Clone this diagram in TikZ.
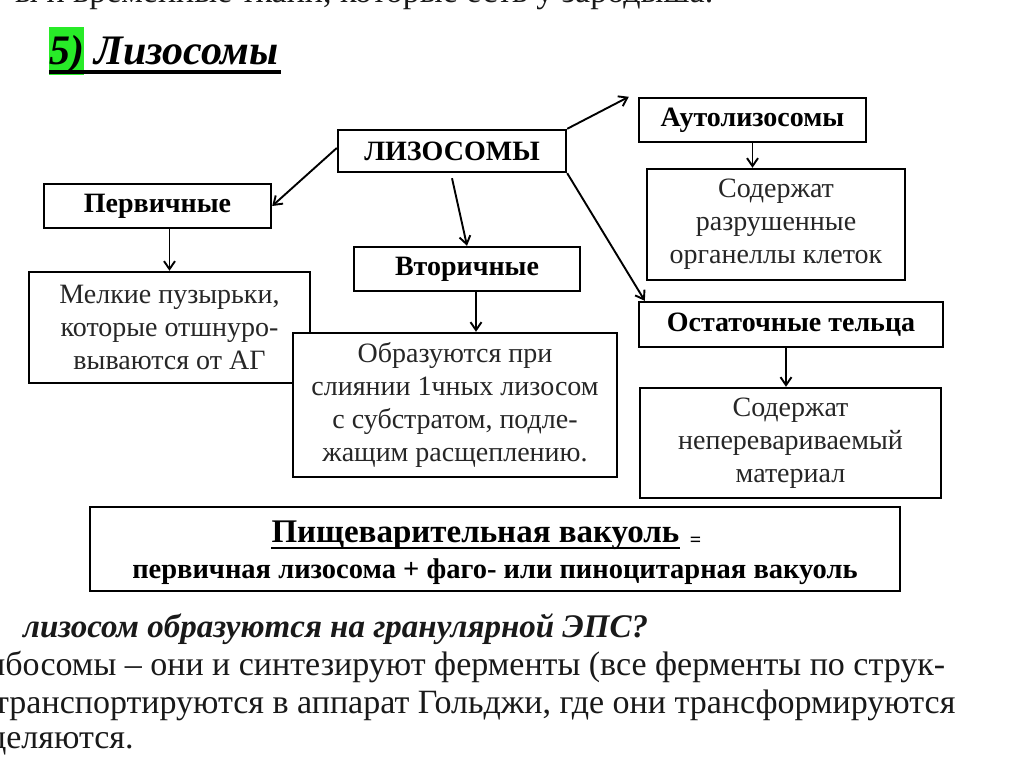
\documentclass[tikz,border=0pt]{standalone}
\usepackage{fontspec}
\setmainfont{Liberation Serif}
\usetikzlibrary{arrows.meta,calc}
\definecolor{hlgreen}{RGB}{40,235,40}
\tikzset{
  hbox/.style={draw=black,line width=2.4pt,fill=white,inner sep=0pt,font=\bfseries\fontsize{28}{33}\selectfont}, % heading box
  tbox/.style={draw=black,line width=2.4pt,fill=white,inner sep=0pt,align=center,text=black!85,font=\fontsize{28}{33}\selectfont}, % text box
  link/.style={-{Straight Barb[length=8pt,width=11pt]},line width=1.9pt},
  body/.style={anchor=base west,inner sep=0pt,text=black!90,font=\fontsize{34}{37}\selectfont},
}

\begin{document}
\begin{tikzpicture}[x=1pt,y=-1pt]
  \useasboundingbox (0,0) rectangle (1024,767);
  \clip (0,0) rectangle (1024,767);
  \fill[white] (0,0) rectangle (1024,767);
  % slide text, cut at the top
  \node[body] (cutline) at (15,3) {ы и временные ткани, которые есть у зародыша.};
  % title
  \fill[hlgreen] (49,27) rectangle (84,75);
  \node[anchor=base west,inner sep=0pt,font=\bfseries\itshape\fontsize{42}{46}\selectfont] (title) at (49,65) {5) Лизосомы};
  \draw[line width=4pt] (49,72) -- (281,72);
  % heading boxes
  \node[hbox,minimum width=228pt,minimum height=42pt] (lys) at (452,151) {ЛИЗОСОМЫ};
  \node[hbox,minimum width=227pt,minimum height=44pt] (prim) at (157.5,206) {Первичные};
  \node[hbox,minimum width=226pt,minimum height=44pt] (sec) at (467,269) {Вторичные};
  \node[hbox,minimum width=227pt,minimum height=44pt] (auto) at (752.5,120) {Аутолизосомы};
  \node[hbox,minimum width=304pt,minimum height=45pt] (resid) at (791,324.5) {Остаточные тельца};
  % text boxes (sectxt lies over primtxt)
  \node[tbox,minimum width=281pt,minimum height=111pt] (primtxt) at (169.5,327.5)
    {Мелкие пузырьки,\\которые отшнуро-\\вываются от АГ};
  \node[tbox,minimum width=324pt,minimum height=144pt] (sectxt) at (455,405)
    {Образуются при\\слиянии 1чных лизосом\\с субстратом, подле-\\жащим расщеплению.};
  \node[tbox,minimum width=258pt,minimum height=111pt] (autotxt) at (776,224.5)
    {Содержат\\разрушенные\\органеллы клеток};
  \node[tbox,minimum width=301pt,minimum height=110pt] (residtxt) at (790.5,443)
    {Содержат\\неперевариваемый\\материал};
  % arrows
  \draw[link] ($(lys.west)+(0,-3)$) -- (prim.east);
  \draw[link] ($(lys.south)+(0,5)$) -- (sec.north);
  \draw[link] (lys.north east) -- ($(auto.north west)+(-9,0)$);
  \draw[link] (lys.south east) -- ($(resid.north west)+(7,0)$);
  \draw[link] (auto.south) -- (auto.south |- autotxt.north);
  \draw[link] (primtxt.north |- prim.south) -- (primtxt.north);
  \draw[link] ($(sec.south)+(9,0)$) coordinate (s1) -- (s1 |- sectxt.north);
  \draw[link] ($(resid.south)+(-5,0)$) coordinate (r1) -- (r1 |- residtxt.north);
  % digestive vacuole
  \node[draw=black,line width=2.4pt,minimum width=810pt,minimum height=84pt] (vac) at (495,549) {};
  \node[anchor=base,inner sep=0pt,font=\bfseries\fontsize{33}{38}\selectfont] (vacname) at (475.5,542) {Пищеварительная вакуоль};
  \draw[line width=2.6pt] ($(vacname.base west)+(0,6)$) -- ($(vacname.base east)+(0,6)$);
  \node[anchor=base west,inner sep=0pt,font=\bfseries\fontsize{20}{24}\selectfont] (vaceq) at ($(vacname.base east)+(10,4)$) {=};
  \node[anchor=base,inner sep=0pt,font=\bfseries\fontsize{28.5}{34}\selectfont] (vacdef) at (495,578)
    {первичная лизосома + фаго- или пиноцитарная вакуоль};
  % slide text below
  \node[body,font=\bfseries\itshape\fontsize{33}{37}\selectfont] (quest) at (23,637) {лизосом образуются на гранулярной ЭПС?};
  \node[body] (lineA) at (-30,675) {рибосомы – они и синтезируют ферменты (все ферменты по струк-};
  \node[body] (lineB) at (-6,713) {транспортируются в аппарат Гольджи, где они трансформируются};
  \node[body] (lineC) at (-50,748) {выделяются.};
\end{tikzpicture}
\end{document}
